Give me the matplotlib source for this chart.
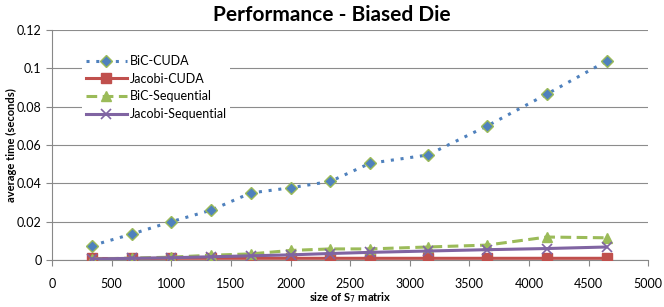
import matplotlib
matplotlib.use("Agg")
import matplotlib.pyplot as plt

plt.rcParams["font.family"] = ["Lato", "DejaVu Sans"]

sizes = [333, 667, 1000, 1333, 1667, 2000, 2333, 2667, 3150, 3650, 4150, 4650]
bic_cuda = [0.0075, 0.0135, 0.0200, 0.0260, 0.0350, 0.0377, 0.0410, 0.0505, 0.0548,
            0.0700, 0.0866, 0.1038]
jacobi_cuda = [0.0008, 0.0008, 0.0009, 0.0009, 0.0009, 0.0009, 0.0009, 0.0009, 0.0009,
               0.0009, 0.0009, 0.0009]
bic_seq = [0.0005, 0.0010, 0.0015, 0.0025, 0.0032, 0.0050, 0.0058, 0.0058, 0.0068,
           0.0078, 0.0120, 0.0116]
jacobi_seq = [0.0005, 0.0009, 0.0012, 0.0017, 0.0022, 0.0027, 0.0034, 0.0040, 0.0047,
              0.0054, 0.0060, 0.0068]

xticks = list(range(0, 5001, 500))
yticks = [0, 0.02, 0.04, 0.06, 0.08, 0.1, 0.12]
ytick_labels = ["0", "0.02", "0.04", "0.06", "0.08", "0.1", "0.12"]

fig = plt.figure(figsize=(6.64, 3.07), dpi=100)
ax = fig.add_axes([0.0783, 0.153, 0.898, 0.749])

ax.plot(sizes, bic_cuda, linestyle=(0, (1, 2.2)), linewidth=2.2, color="#4F81BD",
        marker="D", markersize=6, markerfacecolor="#4F81BD",
        markeredgecolor="#9BBB59", markeredgewidth=1, label="BiC-CUDA", zorder=5)
ax.plot(sizes, jacobi_cuda, linestyle="-", linewidth=2.2, color="#C0504D",
        marker="s", markersize=6.5, label="Jacobi-CUDA", zorder=3)
ax.plot(sizes, bic_seq, linestyle=(0, (3.5, 1.8)), linewidth=2.2, color="#9BBB59",
        marker="^", markersize=7, label="BiC-Sequential", zorder=4)
ax.plot(sizes, jacobi_seq, linestyle="-", linewidth=2.2, color="#8064A2",
        marker="x", markersize=7, markeredgewidth=1.2, label="Jacobi-Sequential", zorder=4)

ax.set_xlim(0, 5000)
ax.set_ylim(0, 0.12)
ax.set_xticks(xticks)
ax.set_yticks(yticks)
ax.set_yticklabels(ytick_labels)
ax.tick_params(axis="both", labelsize=9, color="#888888", length=4, width=0.8)
ax.tick_params(axis="x", pad=9)
ax.yaxis.grid(True, color="#8c8c8c", linewidth=0.8)
ax.set_axisbelow(True)
for side in ["top", "right"]:
    ax.spines[side].set_visible(False)
for side in ["left", "bottom"]:
    ax.spines[side].set_color("#888888")
    ax.spines[side].set_linewidth(0.8)

fig.text(0.5, 1 - 15 / 307, "Performance - Biased Die", fontsize=15,
         fontweight="bold", ha="center", va="center")
ax.set_xlabel("size of S$_7$ matrix", fontsize=8, fontweight="bold")
ax.xaxis.set_label_coords(0.5, -0.13)
ax.set_ylabel("average time (seconds)", fontsize=8, fontweight="bold")
ax.yaxis.set_label_coords(-0.058, 0.5)

leg = ax.legend(loc="upper left", bbox_to_anchor=(0.04, 0.935), frameon=True,
                facecolor="white", edgecolor="none", fontsize=9, handlelength=3.3,
                handletextpad=0.2, labelspacing=0.45, borderpad=0.3,
                framealpha=1)

fig.savefig("out.png", dpi=100)
